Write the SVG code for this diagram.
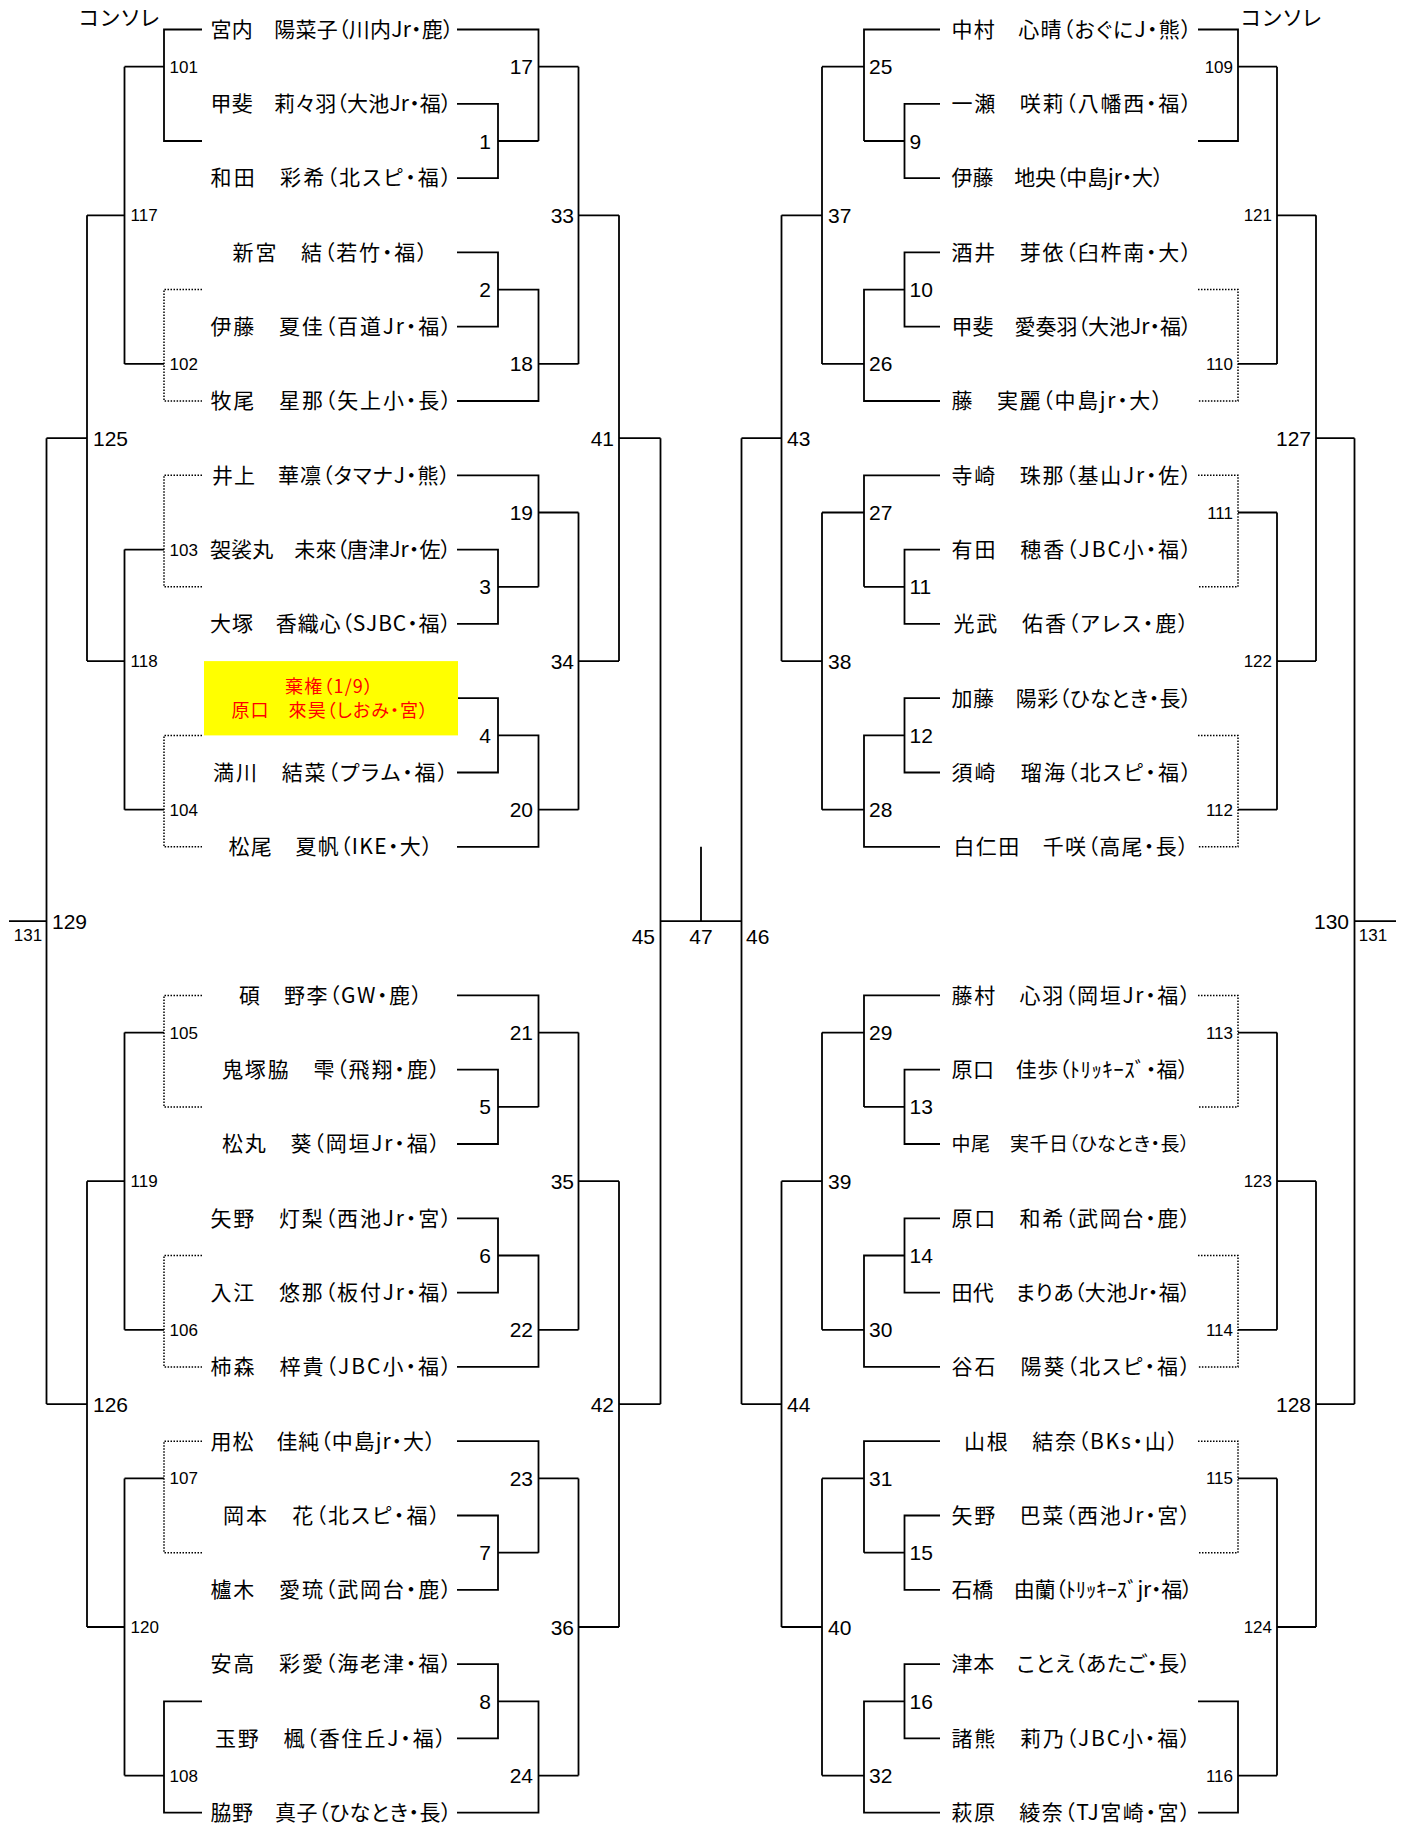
<svg xmlns="http://www.w3.org/2000/svg" width="1407" height="1823" viewBox="0 0 1407 1823">
<style>
.ln{fill:none;stroke:#000;stroke-width:1.8}
.dt{fill:none;stroke:#000;stroke-width:1.5;stroke-dasharray:1.5 1.5}
.nm{font-family:"Noto Sans CJK JP","Noto Sans CJK SC",sans-serif;font-size:21px;fill:#000;font-feature-settings:"palt"}
.nb{font-family:"Liberation Sans",Arial,sans-serif;font-size:21px;fill:#000}
.ns{font-family:"Liberation Sans",Arial,sans-serif;font-size:17px;fill:#000}
.rd{font-family:"Noto Sans CJK JP","Noto Sans CJK SC",sans-serif;font-size:18px;fill:#FF0000;font-feature-settings:"palt"}
</style>
<rect width="1407" height="1823" fill="#fff"/>
<g id="connectors">
<path class="ln" d="M457,29.5H538.5V141M457,103.8H498V178.1H457M498,141H538.5M538.5,66.7H578.5M457,252.4H498V326.7H457M498,289.6H538.5V401H457M538.5,363.9H578.5M578.5,66.7V363.9M578.5,215.3H619M457,475.3H538.5V586.8M457,549.6H498V623.9H457M498,586.8H538.5M538.5,512.5H578.5M457,698.2H498V772.5H457M498,735.4H538.5V846.8H457M538.5,809.7H578.5M578.5,512.5V809.7M578.5,661.1H619M619,215.3V661.1M619,438.2H660.5M660.5,438.2V1404.1"/>
<path class="ln" d="M457,995.4H538.5V1106.9M457,1069.7H498V1144H457M498,1106.9H538.5M538.5,1032.6H578.5M457,1218.3H498V1292.6H457M498,1255.5H538.5V1366.9H457M538.5,1329.8H578.5M578.5,1032.6V1329.8M578.5,1181.2H619M457,1441.2H538.5V1552.7M457,1515.5H498V1589.8H457M498,1552.7H538.5M538.5,1478.4H578.5M457,1664.1H498V1738.4H457M498,1701.3H538.5V1812.7H457M538.5,1775.6H578.5M578.5,1478.4V1775.6M578.5,1627H619M619,1181.2V1627M619,1404.1H660.5"/>
<path class="ln" d="M660.5,921.1H741.5M701,846.8V921.1M741.5,438.2V1404.1"/>
<path class="ln" d="M940,29.5H864V141M940,103.8H904.5V178.1H940M904.5,141H864M864,66.7H822M940,252.4H904.5V326.7H940M904.5,289.6H864V401H940M864,363.9H822M822,66.7V363.9M822,215.3H781.5M940,475.3H864V586.8M940,549.6H904.5V623.9H940M904.5,586.8H864M864,512.5H822M940,698.2H904.5V772.5H940M904.5,735.4H864V846.8H940M864,809.7H822M822,512.5V809.7M822,661.1H781.5M781.5,215.3V661.1M781.5,438.2H741.5"/>
<path class="ln" d="M940,995.4H864V1106.9M940,1069.7H904.5V1144H940M904.5,1106.9H864M864,1032.6H822M940,1218.3H904.5V1292.6H940M904.5,1255.5H864V1366.9H940M864,1329.8H822M822,1032.6V1329.8M822,1181.2H781.5M940,1441.2H864V1552.7M940,1515.5H904.5V1589.8H940M904.5,1552.7H864M864,1478.4H822M940,1664.1H904.5V1738.4H940M904.5,1701.3H864V1812.7H940M864,1775.6H822M822,1478.4V1775.6M822,1627H781.5M781.5,1181.2V1627M781.5,1404.1H741.5"/>
<path class="ln" d="M202,29.5H164V141H202M164,66.7H124.5M164,363.9H124.5M124.5,66.7V363.9M124.5,215.3H87M164,549.6H124.5M164,809.7H124.5M124.5,549.6V809.7M124.5,661.1H87M87,215.3V661.1M87,438.2H46.5M164,1032.6H124.5M164,1329.8H124.5M124.5,1032.6V1329.8M124.5,1181.2H87M164,1478.4H124.5M202,1701.3H164V1812.7H202M164,1775.6H124.5M124.5,1478.4V1775.6M124.5,1627H87M87,1181.2V1627M87,1404.1H46.5M46.5,438.2V1404.1M46.5,921.1H9"/>
<path class="dt" d="M202,289.6H164V401H202M202,475.3H164V586.8H202M202,735.4H164V846.8H202M202,995.4H164V1106.9H202M202,1255.5H164V1366.9H202M202,1441.2H164V1552.7H202"/>
<path class="ln" d="M1198,29.5H1238V141H1198M1238,66.7H1277M1238,363.9H1277M1277,66.7V363.9M1277,215.3H1316M1238,512.5H1277M1238,809.7H1277M1277,512.5V809.7M1277,661.1H1316M1316,215.3V661.1M1316,438.2H1354.5M1238,1032.6H1277M1238,1329.8H1277M1277,1032.6V1329.8M1277,1181.2H1316M1238,1478.4H1277M1198,1701.3H1238V1812.7H1198M1238,1775.6H1277M1277,1478.4V1775.6M1277,1627H1316M1316,1181.2V1627M1316,1404.1H1354.5M1354.5,438.2V1404.1M1354.5,921.1H1396"/>
<path class="dt" d="M1198,289.6H1238V401H1198M1198,475.3H1238V586.8H1198M1198,735.4H1238V846.8H1198M1198,995.4H1238V1106.9H1198M1198,1255.5H1238V1366.9H1198M1198,1441.2H1238V1552.7H1198"/>
</g>
<g id="headers">
<text class="nm" x="79" y="25" textLength="80">コンソレ</text>
<text class="nm" x="1241" y="25" textLength="80">コンソレ</text>
</g>
<g id="players-left">
<g id="pL00"><text class="nm" x="210.5" y="36.8" textLength="243">宮内　陽菜子（川内Jr・鹿）</text></g>
<g id="pL02"><text class="nm" x="210.5" y="111.1" textLength="241">甲斐　莉々羽（大池Jr・福）</text></g>
<g id="pL04"><text class="nm" x="210.5" y="185.4" textLength="241">和田　彩希（北スピ・福）</text></g>
<g id="pL06"><text class="nm" x="232.6" y="259.7" textLength="195">新宮　結（若竹・福）</text></g>
<g id="pL08"><text class="nm" x="210.5" y="334" textLength="241">伊藤　夏佳（百道Jr・福）</text></g>
<g id="pL10"><text class="nm" x="210.5" y="408.3" textLength="241">牧尾　星那（矢上小・長）</text></g>
<g id="pL12"><text class="nm" x="212" y="482.6" textLength="238">井上　華凛（タマナJ・熊）</text></g>
<g id="pL14"><text class="nm" x="210" y="556.9" textLength="241">袈裟丸　未來（唐津Jr・佐）</text></g>
<g id="pL16"><text class="nm" x="210" y="631.2" textLength="241">大塚　香織心（SJBC・福）</text></g>
<g id="pL18"><rect x="204" y="661.1" width="254" height="74.3" fill="#FFFF00"/><text class="rd" x="285" y="693" textLength="88">棄権（1/9）</text><text class="rd" x="231.5" y="717" textLength="196.5">原口　來昊（しおみ・宮）</text></g>
<g id="pL20"><text class="nm" x="213" y="779.8" textLength="235">満川　結菜（プラム・福）</text></g>
<g id="pL22"><text class="nm" x="228.5" y="854.1" textLength="204">松尾　夏帆（IKE・大）</text></g>
<g id="pL26"><text class="nm" x="239" y="1002.7" textLength="183">碩　野李（GW・鹿）</text></g>
<g id="pL28"><text class="nm" x="222" y="1077" textLength="218">鬼塚脇　雫（飛翔・鹿）</text></g>
<g id="pL30"><text class="nm" x="222" y="1151.3" textLength="218">松丸　葵（岡垣Jr・福）</text></g>
<g id="pL32"><text class="nm" x="210.5" y="1225.6" textLength="241">矢野　灯梨（西池Jr・宮）</text></g>
<g id="pL34"><text class="nm" x="210.5" y="1299.9" textLength="241">入江　悠那（板付Jr・福）</text></g>
<g id="pL36"><text class="nm" x="210.5" y="1374.2" textLength="241">柿森　梓貴（JBC小・福）</text></g>
<g id="pL38"><text class="nm" x="210.5" y="1448.5" textLength="225">用松　佳純（中島jr・大）</text></g>
<g id="pL40"><text class="nm" x="223" y="1522.8" textLength="217">岡本　花（北スピ・福）</text></g>
<g id="pL42"><text class="nm" x="210.5" y="1597.1" textLength="241">櫨木　愛琉（武岡台・鹿）</text></g>
<g id="pL44"><text class="nm" x="210.5" y="1671.4" textLength="241">安高　彩愛（海老津・福）</text></g>
<g id="pL46"><text class="nm" x="215" y="1745.7" textLength="231">玉野　楓（香住丘J・福）</text></g>
<g id="pL48"><text class="nm" x="210.5" y="1820" textLength="241">脇野　真子（ひなとき・長）</text></g>
</g>
<g id="players-right">
<g id="pR00"><text class="nm" x="951.5" y="36.8" textLength="240">中村　心晴（おぐにJ・熊）</text></g>
<g id="pR02"><text class="nm" x="951.5" y="111.1" textLength="240">一瀬　咲莉（八幡西・福）</text></g>
<g id="pR04"><text class="nm" x="951.5" y="185.4" textLength="212">伊藤　地央（中島jr・大）</text></g>
<g id="pR06"><text class="nm" x="951.5" y="259.7" textLength="240">酒井　芽依（臼杵南・大）</text></g>
<g id="pR08"><text class="nm" x="951.5" y="334" textLength="240">甲斐　愛奏羽（大池Jr・福）</text></g>
<g id="pR10"><text class="nm" x="951.5" y="408.3" textLength="211">藤　実麗（中島jr・大）</text></g>
<g id="pR12"><text class="nm" x="951.5" y="482.6" textLength="240">寺崎　珠那（基山Jr・佐）</text></g>
<g id="pR14"><text class="nm" x="951.5" y="556.9" textLength="240">有田　穂香（JBC小・福）</text></g>
<g id="pR16"><text class="nm" x="953.5" y="631.2" textLength="235">光武　佑香（アレス・鹿）</text></g>
<g id="pR18"><text class="nm" x="951.5" y="705.5" textLength="240">加藤　陽彩（ひなとき・長）</text></g>
<g id="pR20"><text class="nm" x="951.5" y="779.8" textLength="240">須崎　瑠海（北スピ・福）</text></g>
<g id="pR22"><text class="nm" x="953.5" y="854.1" textLength="235">白仁田　千咲（高尾・長）</text></g>
<g id="pR26"><text class="nm" x="951.5" y="1002.7" textLength="239">藤村　心羽（岡垣Jr・福）</text></g>
<g id="pR28"><text class="nm" x="951.5" y="1077" textLength="237">原口　佳歩（ﾄﾘｯｷｰｽﾞ・福）</text></g>
<g id="pR30"><text class="nm" x="951.5" y="1150.5" textLength="238" style="font-size:19px">中尾　実千日（ひなとき・長）</text></g>
<g id="pR32"><text class="nm" x="951.5" y="1225.6" textLength="239">原口　和希（武岡台・鹿）</text></g>
<g id="pR34"><text class="nm" x="951.5" y="1299.9" textLength="239">田代　まりあ（大池Jr・福）</text></g>
<g id="pR36"><text class="nm" x="951.5" y="1374.2" textLength="239">谷石　陽葵（北スピ・福）</text></g>
<g id="pR38"><text class="nm" x="964" y="1448.5" textLength="214">山根　結奈（BKs・山）</text></g>
<g id="pR40"><text class="nm" x="951.5" y="1522.8" textLength="239">矢野　巴菜（西池Jr・宮）</text></g>
<g id="pR42"><text class="nm" x="951.5" y="1597.1" textLength="241">石橋　由蘭（ﾄﾘｯｷｰｽﾞjr・福）</text></g>
<g id="pR44"><text class="nm" x="951.5" y="1671.4" textLength="239">津本　ことえ（あたご・長）</text></g>
<g id="pR46"><text class="nm" x="951.5" y="1745.7" textLength="239">諸熊　莉乃（JBC小・福）</text></g>
<g id="pR48"><text class="nm" x="951.5" y="1820" textLength="239">萩原　綾奈（TJ宮崎・宮）</text></g>
</g>
<g id="matches-left" text-anchor="end">
<g id="m1"><text class="nb" x="491" y="148.5">1</text></g>
<g id="m2"><text class="nb" x="491" y="297.1">2</text></g>
<g id="m3"><text class="nb" x="491" y="594.3">3</text></g>
<g id="m4"><text class="nb" x="491" y="742.9">4</text></g>
<g id="m5"><text class="nb" x="491" y="1114.4">5</text></g>
<g id="m6"><text class="nb" x="491" y="1263">6</text></g>
<g id="m7"><text class="nb" x="491" y="1560.2">7</text></g>
<g id="m8"><text class="nb" x="491" y="1708.8">8</text></g>
<g id="m17"><text class="nb" x="533" y="74.2">17</text></g>
<g id="m18"><text class="nb" x="533" y="371.4">18</text></g>
<g id="m19"><text class="nb" x="533" y="520">19</text></g>
<g id="m20"><text class="nb" x="533" y="817.2">20</text></g>
<g id="m21"><text class="nb" x="533" y="1040.1">21</text></g>
<g id="m22"><text class="nb" x="533" y="1337.3">22</text></g>
<g id="m23"><text class="nb" x="533" y="1485.9">23</text></g>
<g id="m24"><text class="nb" x="533" y="1783.1">24</text></g>
<g id="m33"><text class="nb" x="574" y="222.8">33</text></g>
<g id="m34"><text class="nb" x="574" y="668.6">34</text></g>
<g id="m35"><text class="nb" x="574" y="1188.7">35</text></g>
<g id="m36"><text class="nb" x="574" y="1634.5">36</text></g>
<g id="m41"><text class="nb" x="614" y="445.7">41</text></g>
<g id="m42"><text class="nb" x="614" y="1411.6">42</text></g>
<g id="m45"><text class="nb" x="655" y="943.5">45</text></g>
</g>
<g id="matches-center" text-anchor="middle">
<g id="m47"><text class="nb" x="701" y="943.5">47</text></g>
<g id="m131L"><text class="ns" x="28" y="940.5">131</text></g>
<g id="m131R"><text class="ns" x="1373" y="940.5">131</text></g>
</g>
<g id="matches-right" text-anchor="start">
<g id="m46"><text class="nb" x="746" y="943.5">46</text></g>
<g id="m9"><text class="nb" x="909.5" y="148.5">9</text></g>
<g id="m10"><text class="nb" x="909.5" y="297.1">10</text></g>
<g id="m11"><text class="nb" x="909.5" y="594.3">11</text></g>
<g id="m12"><text class="nb" x="909.5" y="742.9">12</text></g>
<g id="m13"><text class="nb" x="909.5" y="1114.4">13</text></g>
<g id="m14"><text class="nb" x="909.5" y="1263">14</text></g>
<g id="m15"><text class="nb" x="909.5" y="1560.2">15</text></g>
<g id="m16"><text class="nb" x="909.5" y="1708.8">16</text></g>
<g id="m25"><text class="nb" x="869" y="74.2">25</text></g>
<g id="m26"><text class="nb" x="869" y="371.4">26</text></g>
<g id="m27"><text class="nb" x="869" y="520">27</text></g>
<g id="m28"><text class="nb" x="869" y="817.2">28</text></g>
<g id="m29"><text class="nb" x="869" y="1040.1">29</text></g>
<g id="m30"><text class="nb" x="869" y="1337.3">30</text></g>
<g id="m31"><text class="nb" x="869" y="1485.9">31</text></g>
<g id="m32"><text class="nb" x="869" y="1783.1">32</text></g>
<g id="m37"><text class="nb" x="828" y="222.8">37</text></g>
<g id="m38"><text class="nb" x="828" y="668.6">38</text></g>
<g id="m39"><text class="nb" x="828" y="1188.7">39</text></g>
<g id="m40"><text class="nb" x="828" y="1634.5">40</text></g>
<g id="m43"><text class="nb" x="787" y="445.7">43</text></g>
<g id="m44"><text class="nb" x="787" y="1411.6">44</text></g>
</g>
<g id="consolation-left" text-anchor="start">
<g id="m101"><text class="ns" x="169.5" y="72.7">101</text></g>
<g id="m102"><text class="ns" x="169.5" y="369.9">102</text></g>
<g id="m103"><text class="ns" x="169.5" y="555.6">103</text></g>
<g id="m104"><text class="ns" x="169.5" y="815.7">104</text></g>
<g id="m105"><text class="ns" x="169.5" y="1038.6">105</text></g>
<g id="m106"><text class="ns" x="169.5" y="1335.8">106</text></g>
<g id="m107"><text class="ns" x="169.5" y="1484.4">107</text></g>
<g id="m108"><text class="ns" x="169.5" y="1781.6">108</text></g>
<g id="m117"><text class="ns" x="130.5" y="221.3">117</text></g>
<g id="m118"><text class="ns" x="130.5" y="667.1">118</text></g>
<g id="m119"><text class="ns" x="130.5" y="1187.2">119</text></g>
<g id="m120"><text class="ns" x="130.5" y="1633">120</text></g>
<g id="m125"><text class="nb" x="93" y="445.7">125</text></g>
<g id="m126"><text class="nb" x="93" y="1411.6">126</text></g>
<g id="m129"><text class="nb" x="52" y="928.6">129</text></g>
</g>
<g id="consolation-right" text-anchor="end">
<g id="m109"><text class="ns" x="1233" y="72.7">109</text></g>
<g id="m110"><text class="ns" x="1233" y="369.9">110</text></g>
<g id="m111"><text class="ns" x="1233" y="518.5">111</text></g>
<g id="m112"><text class="ns" x="1233" y="815.7">112</text></g>
<g id="m113"><text class="ns" x="1233" y="1038.6">113</text></g>
<g id="m114"><text class="ns" x="1233" y="1335.8">114</text></g>
<g id="m115"><text class="ns" x="1233" y="1484.4">115</text></g>
<g id="m116"><text class="ns" x="1233" y="1781.6">116</text></g>
<g id="m121"><text class="ns" x="1272" y="221.3">121</text></g>
<g id="m122"><text class="ns" x="1272" y="667.1">122</text></g>
<g id="m123"><text class="ns" x="1272" y="1187.2">123</text></g>
<g id="m124"><text class="ns" x="1272" y="1633">124</text></g>
<g id="m127"><text class="nb" x="1311" y="445.7">127</text></g>
<g id="m128"><text class="nb" x="1311" y="1411.6">128</text></g>
<g id="m130"><text class="nb" x="1349" y="928.6">130</text></g>
</g>
</svg>
